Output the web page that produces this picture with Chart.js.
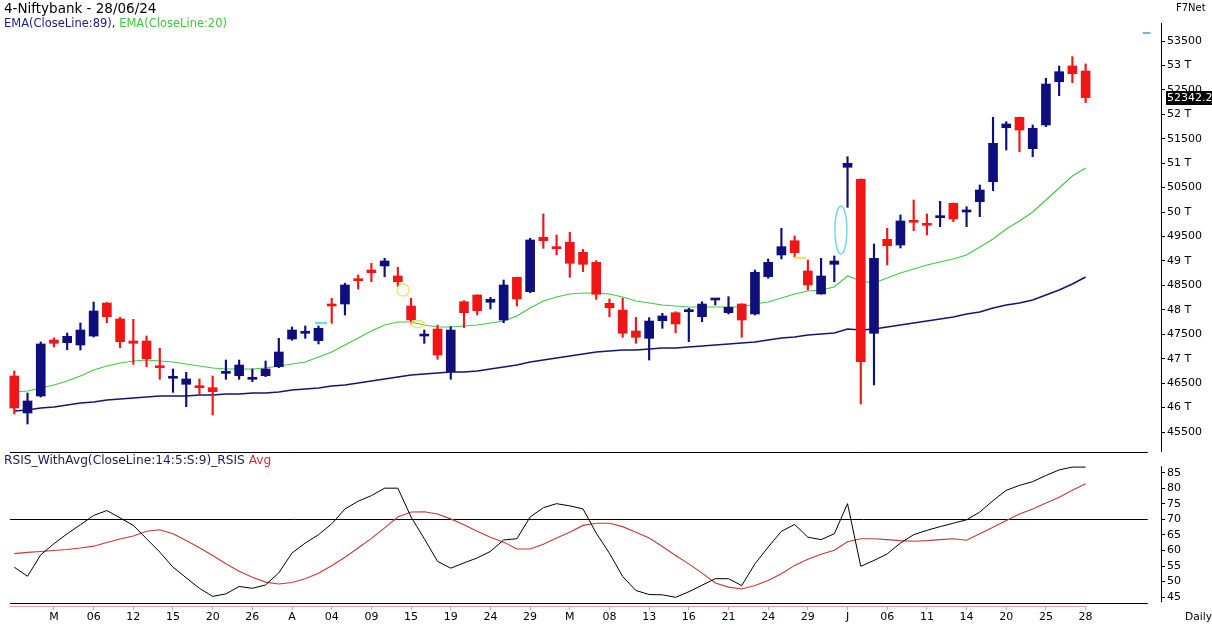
<!DOCTYPE html>
<html><head><meta charset="utf-8">
<script src="https://cdn.jsdelivr.net/npm/chart.js@4.4.1/dist/chart.umd.min.js"></script>
<style>
body{margin:0;background:#fff;width:1212px;height:627px;overflow:hidden;position:relative;font-family:"DejaVu Sans",Verdana,sans-serif;}
.t{position:absolute;font-size:11.5px;white-space:nowrap;line-height:14px;color:#000;}
#box1{position:absolute;left:0;top:0;width:1212px;height:452px;}
#box2{position:absolute;left:0;top:452px;width:1212px;height:175px;}
canvas{display:block;}
#last{position:absolute;left:1166px;width:46px;height:14px;line-height:14px;background:#000;color:#fff;font-size:11px;text-align:left;padding-left:1px;box-sizing:border-box;}
</style></head><body>
<div id="box1"><canvas id="c1" width="1212" height="452"></canvas></div>
<div id="box2"><canvas id="c2" width="1212" height="175"></canvas></div>
<div class="t" style="left:4px;top:0px;font-size:13.5px;line-height:16px;">4-Niftybank - 28/06/24</div>
<div class="t" style="left:4px;top:16px;"><span style="color:#1c1c8c">EMA(CloseLine:89),</span> <span style="color:#3cc83c">EMA(CloseLine:20)</span></div>
<div class="t" style="left:1176px;top:1px;font-size:10px;">F7Net</div>
<div class="t" style="left:4px;top:453px;font-size:12.2px;"><span style="color:#1c1c50">RSIS_WithAvg(CloseLine:14:5:S:9)_RSIS</span> <span style="color:#d03030">Avg</span></div>
<div class="t" style="left:1185px;top:610px;font-size:10.7px;">Daily</div>
<div id="last"></div>
<script>
// ---------- DATA ----------
const dates = [
 '2024-02-27','2024-02-28','2024-02-29',
 '2024-03-01','2024-03-04','2024-03-05','2024-03-06','2024-03-07','2024-03-11','2024-03-12','2024-03-13','2024-03-14','2024-03-15','2024-03-18','2024-03-19','2024-03-20','2024-03-21','2024-03-22','2024-03-26','2024-03-27','2024-03-28',
 '2024-04-01','2024-04-02','2024-04-03','2024-04-04','2024-04-05','2024-04-08','2024-04-09','2024-04-10','2024-04-12','2024-04-15','2024-04-16','2024-04-18','2024-04-19','2024-04-22','2024-04-23','2024-04-24','2024-04-25','2024-04-26','2024-04-29','2024-04-30',
 '2024-05-02','2024-05-03','2024-05-06','2024-05-07','2024-05-08','2024-05-09','2024-05-10','2024-05-13','2024-05-14','2024-05-15','2024-05-16','2024-05-17','2024-05-18','2024-05-21','2024-05-22','2024-05-23','2024-05-24','2024-05-27','2024-05-28','2024-05-29','2024-05-30','2024-05-31',
 '2024-06-03','2024-06-04','2024-06-05','2024-06-06','2024-06-07','2024-06-10','2024-06-11','2024-06-12','2024-06-13','2024-06-14','2024-06-18','2024-06-19','2024-06-20','2024-06-21','2024-06-24','2024-06-25','2024-06-26','2024-06-27','2024-06-28'
];
const tickDates = ['2024-03-01','2024-03-06','2024-03-12','2024-03-15','2024-03-20','2024-03-26','2024-04-01','2024-04-04','2024-04-09','2024-04-15','2024-04-19','2024-04-24','2024-04-29','2024-05-03','2024-05-08','2024-05-13','2024-05-16','2024-05-21','2024-05-24','2024-05-29','2024-06-03','2024-06-06','2024-06-11','2024-06-14','2024-06-20','2024-06-25','2024-06-28'];
const tickLabels = ['M','06','12','15','20','26','A','04','09','15','19','24','29','M','08','13','16','21','24','29','J','06','11','14','20','25','28'];

const open  = [46646,45889,46237,47383,47327,47280,47464,48140,47812,47362,47362,46836,46599,46476,46442,46407,46700,46652,46578,46652,46836,47403,47520,47369,48113,48119,48631,48815,48897,48692,48078,47464,47608,46734,48166,48303,48154,47792,48665,48371,49484,49292,49382,49177,48972,48133,47996,47567,47417,47777,47941,47962,47859,48201,47941,48119,47915,48678,49122,49414,48794,48324,48931,50916,50671,47520,49443,49326,49818,49762,49885,50180,50002,50212,50621,51726,51939,51297,51782,52667,52989,52886];
const high  = [46748,46298,47342,47424,47526,47731,48160,48150,47847,47806,47464,47213,46789,46722,46585,46646,46973,46973,46789,46953,47417,47649,47669,47669,48236,48543,48713,48952,49054,48870,48236,47587,47689,47655,48187,48310,48256,48610,48670,49463,49961,49531,49586,49238,49005,48221,48236,47847,47839,47929,47962,48031,48166,48218,48269,48125,48815,49040,49668,49511,49019,49054,49101,51133,50680,49347,49668,49940,50247,49961,50220,50185,50110,50554,51939,51849,51945,51782,52737,52989,53179,53030];
const low   = [45868,45664,46216,47239,47184,47178,47444,47737,47225,46885,46836,46578,46312,46018,46257,45848,46578,46578,46530,46632,46816,47377,47417,47301,47724,47894,48426,48576,48678,48473,47710,47315,46988,46578,47634,47894,48017,47737,48078,48350,49259,49122,48665,48780,48215,47859,47438,47315,46973,47622,47532,47348,47757,48099,47915,47438,47894,48645,49040,49075,48406,48320,48576,50097,46073,46462,48917,49265,49619,49531,49701,49803,49701,49905,50437,51270,51235,51133,51747,52381,52647,52238];
const close = [45991,46135,47301,47315,47458,47587,47976,47859,47348,47315,46999,46816,46610,46585,46407,46325,46712,46871,46611,46789,47137,47587,47552,47622,48078,48508,48596,48760,48999,48576,47792,47505,47076,47587,47941,47982,48215,48508,48221,49429,49414,49251,48952,48931,48318,48043,47520,47438,47771,47874,47710,47996,48119,48215,48052,47792,48768,48972,49292,49169,48508,48692,48999,50998,46939,49054,49312,49818,49791,49729,49920,49858,50023,50452,51407,51802,51679,51714,52620,52872,52831,52342.2];

const ema89 = [45930,45951,45991,46012,46053,46094,46114,46155,46176,46196,46216,46237,46237,46237,46257,46257,46278,46278,46298,46298,46319,46360,46380,46401,46442,46462,46503,46544,46585,46626,46667,46687,46708,46728,46728,46749,46790,46830,46871,46932,46973,47014,47055,47096,47137,47157,47178,47178,47198,47218,47218,47239,47260,47280,47301,47321,47341,47382,47423,47444,47485,47505,47526,47608,47587,47608,47649,47689,47730,47771,47812,47853,47915,47956,48037,48099,48140,48201,48303,48406,48528,48672];
const ema20 = [46319,46339,46401,46462,46544,46646,46769,46851,46912,46953,46973,46953,46932,46892,46851,46810,46789,46789,46789,46810,46851,46892,46932,47035,47137,47280,47424,47566,47689,47751,47751,47689,47649,47649,47669,47689,47730,47771,47873,48037,48180,48262,48324,48344,48344,48324,48262,48180,48139,48099,48078,48058,48058,48058,48058,48058,48119,48160,48242,48324,48385,48406,48467,48692,48590,48549,48651,48753,48835,48917,48978,49040,49122,49285,49449,49654,49817,50001,50247,50492,50738,50902];

const rsi    = [54.6,51.7,58.6,62.2,65.4,68.3,71.3,72.9,70.5,68.1,63.8,59.5,54.6,51.2,47.8,45.2,46.0,48.4,47.8,48.9,52.8,59.2,62.4,65.1,68.6,73.4,75.9,77.7,80.1,80.1,70.8,63.8,56.5,54.3,56.0,57.6,59.7,63.4,63.8,70.8,73.8,75.1,74.4,73.4,65.6,59.1,51.6,47.1,45.8,45.7,44.9,46.7,48.8,50.9,50.9,48.7,55.7,61.1,66.2,68.4,64.3,63.5,65.4,75.1,54.9,56.8,58.9,62.4,65.1,66.5,67.7,68.8,69.9,72.4,76.1,79.4,81.0,82.2,84.2,86.0,86.9,86.9];
const rsiAvg = [59.0,59.4,59.7,60.0,60.3,60.8,61.4,62.6,63.7,64.7,66.2,66.7,65.4,63.2,60.9,58.4,55.7,53.3,51.4,49.8,49.2,49.7,50.9,52.7,55.1,57.8,60.8,63.9,67.3,70.8,72.4,72.5,71.8,70.2,68.3,66.2,64.3,62.7,60.5,60.5,62.0,64.0,65.9,68.1,68.8,68.8,67.7,65.9,64.0,61.3,58.4,55.7,52.7,49.5,48.2,47.6,48.7,50.3,52.5,55.2,57.2,58.8,60.1,62.8,63.8,63.8,63.5,63.2,63.0,63.2,63.5,63.8,63.3,65.4,67.5,69.7,71.8,73.4,75.3,77.2,79.4,81.5];

const priceTicks = [45500,46000,46500,47000,47500,48000,48500,49000,49500,50000,50500,51000,51500,52000,52500,53000,53500];
const rsiTicks = [45,50,55,60,65,70,75,80,85];
const rsiLevel = 70;

// chart annotations (pattern markers), in data space
const notes = [
 {i:23.2, p:47730, kind:'dash',  color:'#6fd8ea'},
 {i:29.4, p:48406, kind:'ring',  color:'#f2e46a'},
 {i:30.5, p:47710, kind:'oval',  color:'#f2e46a'},
 {i:59.4, p:49060, kind:'dash',  color:'#f2e46a'},
 {i:62.5, p:49633, kind:'tall',  color:'#6fd8ea'},
 {i:85.6, p:53664, kind:'small', color:'#4aa0c8'}
];

// ---------- CHARTS ----------
const X_MIN = -1.08, X_MAX = 86.7;
const NAVY = '#0e0e7c', RED = '#f01616';
const candleColor = close.map((c,i)=> c >= open[i] ? NAVY : RED);
const tickIdx = tickDates.map(d => dates.indexOf(d));
const FONT = {family:'"DejaVu Sans", Verdana, sans-serif', size:11};

const decor1 = {
  id:'decor1',
  afterDatasetsDraw(chart){
    const {ctx, chartArea:a, scales:{x,y}} = chart;
    ctx.save();
    ctx.strokeStyle = '#000'; ctx.lineWidth = 1;
    ctx.beginPath(); ctx.moveTo(a.right+0.5, y.getPixelForValue(53870)); ctx.lineTo(a.right+0.5, a.bottom); ctx.stroke();
    notes.forEach(n=>{
      const px = x.getPixelForValue(n.i), py = y.getPixelForValue(n.p);
      ctx.strokeStyle = n.color; ctx.lineWidth = 1.5;
      ctx.beginPath();
      if(n.kind==='dash'){ ctx.lineWidth = 2.5; ctx.moveTo(px-6,py); ctx.lineTo(px+6,py); }
      else if(n.kind==='small'){ ctx.lineWidth = 1.5; ctx.moveTo(px-4,py); ctx.lineTo(px+4,py); }
      else if(n.kind==='ring'){ ctx.ellipse(px,py,6,6,0,0,Math.PI*2); }
      else if(n.kind==='oval'){ ctx.ellipse(px,py,7,3.5,0,0,Math.PI*2); }
      else if(n.kind==='tall'){ ctx.ellipse(px,py,6,24,0,0,Math.PI*2); }
      ctx.stroke();
    });
    ctx.restore();
  }
};

const chart1 = new Chart(document.getElementById('c1'), {
  type:'bar',
  data:{datasets:[
    {type:'line', data: ema89.map((v,i)=>({x:i,y:v})), borderColor:'#16166e', borderWidth:1.6, pointRadius:0, tension:0, order:10},
    {type:'line', data: ema20.map((v,i)=>({x:i,y:v})), borderColor:'#46c846', borderWidth:1.2, pointRadius:0, tension:0, order:9},
    {type:'bar', data: low.map((l,i)=>({x:i,y:[l,high[i]]})), backgroundColor:candleColor, borderWidth:0, barThickness:1.5, grouped:false, order:2},
    {type:'bar', data: open.map((o,i)=>({x:i,y:[o,close[i]]})), backgroundColor:candleColor, borderWidth:0, barThickness:9, minBarLength:2, grouped:false, order:1}
  ]},
  options:{
    responsive:false, animation:false, events:[],
    layout:{padding:0},
    plugins:{legend:{display:false}, tooltip:{enabled:false}},
    scales:{
      x:{type:'linear', min:X_MIN, max:X_MAX, display:false, offset:false, grid:{offset:false}},
      y:{position:'right', min:45091, max:54339,
         border:{display:false},
         grid:{drawOnChartArea:false, drawTicks:true, tickLength:4, color:'#000'},
         ticks:{padding:2, color:'#000', font:FONT, callback:v => (v % 1000 === 0 ? (v/1000)+' T' : String(v))},
         afterBuildTicks:s=>{ s.ticks = priceTicks.map(v=>({value:v})); },
         afterFit:s=>{ s.width = 51; s.paddingTop = 0; s.paddingBottom = 0; }
      }
    }
  },
  plugins:[decor1]
});

const decor2 = {
  id:'decor2',
  beforeDatasetsDraw(chart){
    const {ctx, chartArea:a, scales:{x,y}} = chart;
    ctx.save();
    ctx.strokeStyle = '#000'; ctx.lineWidth = 1;
    const x0 = x.getPixelForValue(-0.33), x1 = x.getPixelForValue(85.7);
    [a.top+0.5, Math.round(y.getPixelForValue(rsiLevel))+0.5, Math.round(y.getPixelForValue(43.06))+0.5].forEach(py=>{
      ctx.beginPath(); ctx.moveTo(x0,py); ctx.lineTo(x1,py); ctx.stroke();
    });
    ctx.beginPath(); ctx.moveTo(a.right+0.5, y.getPixelForValue(87.2)); ctx.lineTo(a.right+0.5, y.getPixelForValue(43.3)); ctx.stroke();
    ctx.strokeStyle = '#e2a0a0';
    ctx.beginPath(); ctx.moveTo(x0, a.bottom+0.5); ctx.lineTo(x.getPixelForValue(tickIdx[tickIdx.length-1])+0.5, a.bottom+0.5); ctx.stroke();
    ctx.restore();
  }
};

const chart2 = new Chart(document.getElementById('c2'), {
  type:'line',
  data:{datasets:[
    {data: rsiAvg.map((v,i)=>({x:i,y:v})), borderColor:'#c43a3a', borderWidth:1.1, pointRadius:0, tension:0, order:2},
    {data: rsi.map((v,i)=>({x:i,y:v})), borderColor:'#000', borderWidth:1, pointRadius:0, tension:0, order:1}
  ]},
  options:{
    responsive:false, animation:false, events:[],
    layout:{padding:0},
    plugins:{legend:{display:false}, tooltip:{enabled:false}},
    scales:{
      x:{type:'linear', min:X_MIN, max:X_MAX, offset:false,
         border:{display:false},
         grid:{drawOnChartArea:false, drawTicks:true, tickLength:4, color:'#e2a0a0'},
         ticks:{autoSkip:false, maxRotation:0, minRotation:0, padding:1, color:'#000', font:FONT,
                callback:v => { const k = tickIdx.indexOf(v); return k >= 0 ? tickLabels[k] : ''; }},
         afterBuildTicks:s=>{ s.ticks = tickIdx.map(v=>({value:v})); },
         afterFit:s=>{ s.height = 21; s.paddingLeft = 0; s.paddingRight = 0; }
      },
      y:{position:'right', min:42.1, max:91.77,
         border:{display:false},
         grid:{drawOnChartArea:false, drawTicks:true, tickLength:4, color:'#000'},
         ticks:{padding:2, color:'#000', font:FONT},
         afterBuildTicks:s=>{ s.ticks = rsiTicks.map(v=>({value:v})); },
         afterFit:s=>{ s.width = 51; s.paddingTop = 0; s.paddingBottom = 0; }
      }
    }
  },
  plugins:[decor2]
});

const lastVal = close[close.length-1];
const lastEl = document.getElementById('last');
lastEl.textContent = lastVal.toFixed(1);
lastEl.style.top = (chart1.scales.y.getPixelForValue(lastVal) - 7) + 'px';
</script>
</body></html>
